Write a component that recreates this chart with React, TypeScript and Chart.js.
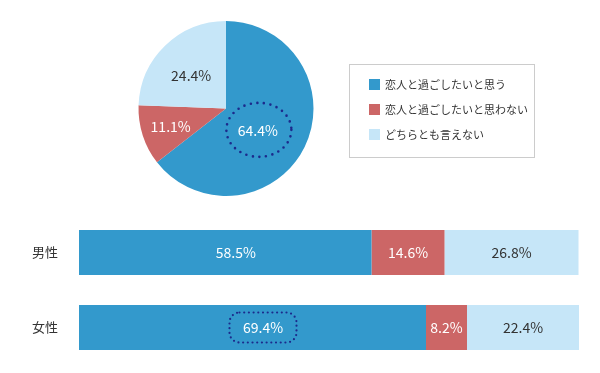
import React, { useEffect, useRef } from "react";
import { Chart, registerables } from "chart.js";
Chart.register(...registerables);

const pieLabels = ["恋人と過ごしたいと思う", "恋人と過ごしたいと思わない", "どちらとも言えない"];
const pieValues = [64.4, 11.1, 24.4];
const barCategories = ["男性", "女性"];
const wantValues = [58.5, 69.4];
const notWantValues = [14.6, 8.2];
const neitherValues = [26.8, 22.4];
const colors = ["#3399cc", "#cc6666", "#c6e6f8"];
const FONT = "'Noto Sans CJK JP', 'Noto Sans', sans-serif";
const DOT = "#1c2a8c";

const fmt = (v: number) => v.toFixed(1) + "%";

const pieDecor = {
  id: "pieDecor",
  afterDraw(chart: any) {
    const ctx = chart.ctx;
    const meta = chart.getDatasetMeta(0);
    const radFrac = [0.445, 0.665, 0.545];
    const angShift = [9, 0, -3];
    ctx.save();
    ctx.font = `14px ${FONT}`;
    ctx.textAlign = "center";
    ctx.textBaseline = "middle";
    meta.data.forEach((arc: any, i: number) => {
      const p = arc.getProps(["x", "y", "startAngle", "endAngle", "outerRadius"], true);
      const mid = (p.startAngle + p.endAngle) / 2 + (angShift[i] * Math.PI) / 180;
      const d = p.outerRadius * radFrac[i];
      const lx = p.x + d * Math.cos(mid);
      const ly = p.y + d * Math.sin(mid);
      ctx.fillStyle = i === 2 ? "#333333" : "#ffffff";
      ctx.fillText(fmt(pieValues[i]), lx, ly);
      if (i === 0) {
        ctx.save();
        ctx.strokeStyle = DOT;
        ctx.lineWidth = 2.6;
        ctx.lineCap = "round";
        ctx.setLineDash([0, 6.6]);
        ctx.beginPath();
        ctx.ellipse(lx + 1, ly - 1, 32.5, 27, 0, 0, Math.PI * 2);
        ctx.stroke();
        ctx.restore();
      }
    });
    // legend box
    ctx.strokeStyle = "#cccccc";
    ctx.lineWidth = 1;
    ctx.strokeRect(349.5, 64.5, 185, 93);
    ctx.textAlign = "left";
    ctx.font = `11px ${FONT}`;
    pieLabels.forEach((lab, i) => {
      const y = 79 + i * 25;
      ctx.fillStyle = colors[i];
      ctx.fillRect(369, y, 11, 11);
      ctx.fillStyle = "#333333";
      ctx.fillText(lab, 385, y + 6);
    });
    ctx.restore();
  },
};

const barDecor = {
  id: "barDecor",
  afterDatasetsDraw(chart: any) {
    const ctx = chart.ctx;
    ctx.save();
    ctx.font = `14px ${FONT}`;
    ctx.textAlign = "center";
    ctx.textBaseline = "middle";
    chart.data.datasets.forEach((ds: any, di: number) => {
      const meta = chart.getDatasetMeta(di);
      meta.data.forEach((bar: any, i: number) => {
        const p = bar.getProps(["x", "y", "base"], true);
        const cx = (p.x + p.base) / 2 + (di === 0 ? 10.5 : 0);
        ctx.fillStyle = di === 2 ? "#333333" : "#ffffff";
        ctx.fillText(fmt(ds.data[i]), cx, p.y);
        if (di === 0 && i === 1) {
          ctx.save();
          ctx.strokeStyle = DOT;
          ctx.lineWidth = 2.2;
          ctx.lineCap = "round";
          ctx.setLineDash([0, 4.7]);
          ctx.beginPath();
          ctx.roundRect(cx - 33.5, p.y - 15, 67, 30, 10);
          ctx.stroke();
          ctx.restore();
        }
      });
    });
    ctx.restore();
  },
};

export default function App() {
  const pieRef = useRef<HTMLCanvasElement>(null);
  const barRef = useRef<HTMLCanvasElement>(null);

  useEffect(() => {
    const pie = new Chart(pieRef.current!, {
      type: "pie",
      data: {
        labels: pieLabels,
        datasets: [{ data: pieValues, backgroundColor: colors, borderWidth: 0 }],
      },
      options: {
        responsive: false,
        animation: false,
        layout: { padding: { left: 138, right: 286, top: 21, bottom: 14 } },
        plugins: { legend: { display: false }, tooltip: { enabled: false } },
      },
      plugins: [pieDecor],
    } as any);

    const bar = new Chart(barRef.current!, {
      type: "bar",
      data: {
        labels: barCategories,
        datasets: [
          { label: pieLabels[0], data: wantValues, backgroundColor: colors[0] },
          { label: pieLabels[1], data: notWantValues, backgroundColor: colors[1] },
          { label: pieLabels[2], data: neitherValues, backgroundColor: colors[2] },
        ],
      },
      options: {
        indexAxis: "y",
        responsive: false,
        animation: false,
        datasets: { bar: { barPercentage: 0.6, categoryPercentage: 1, borderWidth: 0 } },
        layout: { padding: { left: 0, right: 21, top: 5, bottom: 8 } },
        plugins: { legend: { display: false }, tooltip: { enabled: false } },
        scales: {
          x: { stacked: true, min: 0, max: 100, display: false },
          y: {
            stacked: true,
            grid: { display: false, drawTicks: false },
            border: { display: false },
            ticks: { color: "#333333", padding: 21, font: { size: 13, family: FONT } },
            afterFit: (s: any) => {
              s.width = 79;
              s.paddingTop = 0;
              s.paddingBottom = 0;
            },
          },
        },
      },
      plugins: [barDecor],
    } as any);

    return () => {
      pie.destroy();
      bar.destroy();
    };
  }, []);

  return (
    <div style={{ position: "fixed", left: 0, top: 0, width: 600, height: 373, background: "#ffffff" }}>
      <canvas ref={pieRef} width={600} height={210} style={{ position: "absolute", left: 0, top: 0, width: 600, height: 210 }} />
      <canvas ref={barRef} width={600} height={163} style={{ position: "absolute", left: 0, top: 210, width: 600, height: 163 }} />
    </div>
  );
}
